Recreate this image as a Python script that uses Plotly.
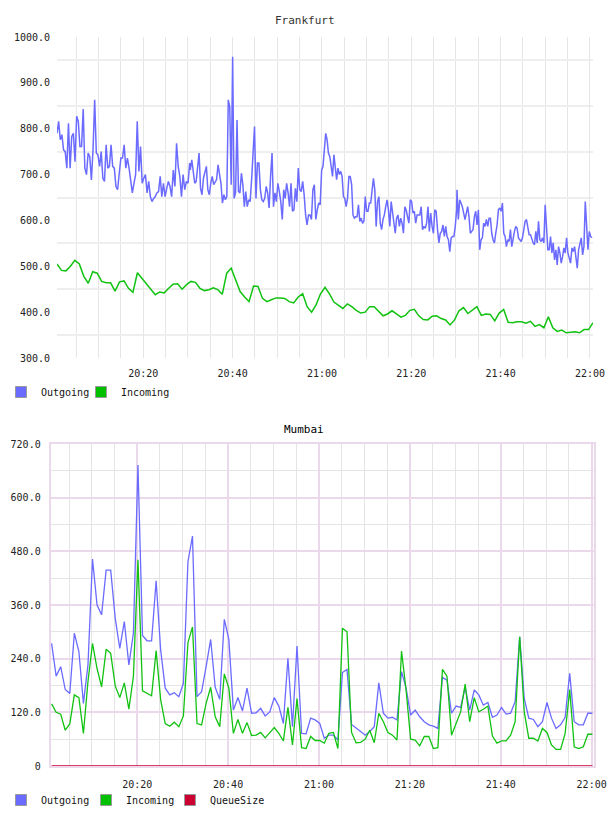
import plotly.graph_objects as go
import pandas as pd

DATE = "2024-01-01 "

# ---------------- Frankfurt ----------------
fra_out_1 = [790, 816, 776, 787, 754, 750, 714, 812, 714, 783, 790, 728, 827, 816, 761, 761, 843, 714,
             700, 747, 739, 688, 754, 863, 747, 743, 718, 750, 692, 685, 765, 714, 718, 765, 718, 714,
             674, 667, 703, 736, 736, 765, 714, 736, 714, 685, 660, 681, 700, 816, 707, 761, 681, 692,
             700, 660, 685, 652, 641, 648, 652, 660, 663, 696, 652, 681, 652, 670, 685, 674, 652, 710,
             674, 768, 718, 696, 652, 700, 667, 685, 681, 725]
fra_out_2 = [710, 732, 703, 681, 685, 714, 747, 670, 656, 692, 703, 718, 667, 656, 681, 696, 678, 685,
             689, 721, 696, 681, 638, 656, 645, 652, 863, 848, 678, 957, 648, 660, 819, 663, 660, 703,
             678, 630, 663, 630, 645, 641, 689, 754, 805, 648, 725, 725, 667, 645, 641, 648, 674, 660,
             627, 696, 747, 630, 660, 641, 681, 663, 641, 602, 667, 648, 681, 660, 630, 681, 620, 623,
             670, 641, 714, 667, 663, 685, 656, 612, 590, 612, 612, 602, 667, 678, 602, 623, 638, 634,
             710]
fra_out_3 = [718, 754, 790, 776, 747, 739, 710, 696, 743, 710, 689, 714, 700, 707, 696, 652, 648, 630,
             648, 696, 696, 678, 612, 605, 608, 608, 634, 598, 605, 594, 598, 652, 620, 620, 638, 638,
             660, 692, 667, 587, 641, 652, 594, 580, 602, 612, 630, 645, 623, 587, 641, 616, 598, 572,
             605, 612, 587, 605, 594, 572, 630, 623, 608, 594, 645, 641, 616, 620, 594, 612, 612, 612,
             630, 580, 587, 583, 594, 630, 576, 616, 587, 572, 623, 620, 580, 551, 572, 576, 590, 565,
             587, 565, 558, 532, 562, 565, 565, 587, 623]
fra_out_4 = [667, 602, 645, 638, 630, 616, 602, 616, 630, 608, 572, 576, 580, 608, 620, 590, 623, 536,
             558, 562, 594, 587, 602, 587, 605, 605, 572, 558, 551, 572, 590, 623, 627, 620, 638, 572,
             565, 543, 558, 554, 580, 543, 562, 576, 587, 583, 562, 558, 554, 562, 583, 598, 602, 587,
             569, 569, 558, 551, 547, 576, 551, 598, 558, 554, 562, 551, 634, 587, 536, 536, 565, 529,
             551, 514, 536, 503, 543, 529, 507, 521, 540, 529, 562, 529, 514, 507, 540, 532, 543, 521,
             496, 536, 551, 562, 525, 543, 641, 580, 536, 576, 565, 562]
fra_out_spans = [("20:00:41", "20:30:23"), ("20:30:32", "20:59:56"),
                 ("21:00:14", "21:30:09"), ("21:30:14", "22:00:27")]

fra_in = [505, 491, 490, 500, 513, 505, 478, 463, 488, 485, 467, 464, 464, 446, 466, 468, 452, 443,
          486, 474, 460, 449, 438, 444, 442, 452, 461, 462, 450, 460, 467, 465, 452, 447, 449, 453,
          449, 439, 485, 496, 470, 445, 433, 423, 457, 456, 430, 423, 427, 431, 431, 430, 423, 420,
          433, 440, 412, 400, 416, 440, 454, 440, 422, 414, 408, 418, 412, 404, 398, 400, 412, 412,
          403, 392, 396, 403, 396, 389, 393, 404, 406, 392, 384, 383, 391, 392, 386, 383, 372, 383,
          403, 410, 397, 404, 412, 393, 396, 395, 381, 398, 406, 378, 377, 379, 379, 376, 380, 369,
          373, 366, 390, 366, 358, 361, 355, 356, 357, 355, 362, 362, 377]
fra_in_start = "20:00:41"

fra_range = ("20:00:41", "22:00:41")
fra_yticks = [300, 400, 500, 600, 700, 800, 900, 1000]
fra_yticktext = ["300.0", "400.0", "500.0", "600.0", "700.0", "800.0", "900.0", "1000.0"]

# ---------------- Mumbai ----------------
mum_out = [274, 201, 222, 171, 162, 297, 256, 140, 226, 463, 360, 338, 438, 438, 330, 263, 323, 226,
           297, 673, 292, 280, 280, 414, 259, 174, 159, 164, 155, 185, 457, 514, 155, 166, 222, 283,
           176, 149, 328, 283, 125, 153, 123, 174, 118, 119, 129, 112, 121, 153, 134, 95, 241, 88,
           268, 73, 72, 107,
           103, 95, 62, 69, 69, 58, 209, 216, 93, 84, 77, 69, 77, 88, 186, 118, 107, 109, 103, 211,
           174, 114, 125, 110, 99, 92, 89, 84, 198, 192, 118, 134, 131, 176, 125, 170, 159, 136, 142,
           109, 114, 131, 116, 118, 144, 289, 151, 107, 104, 88, 99, 142, 107, 84, 92, 109, 207, 99,
           92, 92, 118, 118]
mum_in = [139, 120, 116, 80, 94, 159, 153, 73, 189, 274, 218, 177, 261, 252, 179, 153, 186, 127,
          200, 461, 168, 162, 157, 258, 148, 95, 89, 98, 88, 112, 276, 311, 95, 92, 140, 176, 110, 88,
          206, 174, 73, 104, 73, 97, 68, 69, 75, 63, 75, 86, 73, 56, 131, 47, 151, 41, 39, 66,
          57, 57, 51, 73, 75, 39, 308, 300, 75, 52, 53, 60, 80, 52, 118, 99, 75, 69, 58, 257, 170, 60,
          58, 45, 66, 66, 39, 41, 216, 201, 69, 95, 121, 183, 99, 153, 121, 127, 134, 67, 51, 56, 56,
          69, 99, 289, 121, 62, 62, 56, 84, 75, 47, 37, 37, 73, 171, 43, 39, 43, 71, 71]
mum_queue = [0] * len(mum_out)
mum_start = "20:01:10"

mum_range = ("20:00:58", "22:00:31")
mum_yticks = [0, 120, 240, 360, 480, 600, 720]
mum_yticktext = ["0", "120.0", "240.0", "360.0", "480.0", "600.0", "720.0"]

# ---------------- styling ----------------
W, H = 608, 816
FONT = "DejaVu Sans Mono"
C_OUT = "#6b6bff"
C_IN = "#11c211"
C_Q = "#cc0033"
GRID = "#e6e6e6"
PINK = "#ebd8eb"
MINOR2 = "#e4e4e4"


def every_minute(start, n):
    return pd.date_range(DATE + start, periods=n, freq="60s")


fig = go.Figure()

fo_x, fo_y = [], []
for seg, (s, e) in zip([fra_out_1, fra_out_2, fra_out_3, fra_out_4], fra_out_spans):
    fo_x += list(pd.date_range(DATE + s, DATE + e, periods=len(seg)))
    fo_y += seg
fig.add_trace(go.Scatter(x=fo_x, y=fo_y, mode="lines", line=dict(color=C_OUT, width=1.5),
                         showlegend=False, xaxis="x", yaxis="y"))
fig.add_trace(go.Scatter(x=every_minute(fra_in_start, len(fra_in)), y=fra_in, mode="lines",
                         line=dict(color=C_IN, width=1.5), showlegend=False, xaxis="x", yaxis="y"))

mx = every_minute(mum_start, len(mum_out))
fig.add_trace(go.Scatter(x=mx, y=mum_out, mode="lines", line=dict(color=C_OUT, width=1.3),
                         showlegend=False, xaxis="x2", yaxis="y2"))
fig.add_trace(go.Scatter(x=mx, y=mum_in, mode="lines", line=dict(color=C_IN, width=1.3),
                         showlegend=False, xaxis="x2", yaxis="y2"))
fig.add_trace(go.Scatter(x=mx, y=mum_queue, mode="lines", line=dict(color=C_Q, width=1.5),
                         showlegend=False, xaxis="x2", yaxis="y2", cliponaxis=False))


def swatch(name, color, legend, xa, ya, lw=None):
    fig.add_trace(go.Scatter(x=[None], y=[None], mode="markers", name=name,
                             marker=dict(symbol="square", size=11, color=color,
                                         line=dict(color="#999999", width=1)),
                             legend=legend, legendwidth=lw, xaxis=xa, yaxis=ya))


swatch("Outgoing", C_OUT, "legend", "x", "y", 35)
swatch("Incoming", "#00c000", "legend", "x", "y", 70)
swatch("Outgoing", C_OUT, "legend2", "x2", "y2", 40)
swatch("Incoming", "#00c000", "legend2", "x2", "y2", 39)
swatch("QueueSize", C_Q, "legend2", "x2", "y2", 80)

MIN = 60 * 1000

fig.update_layout(
    width=W, height=H, autosize=False, margin=dict(l=0, r=0, t=0, b=0, autoexpand=False),
    paper_bgcolor="white", plot_bgcolor="white",
    font=dict(family=FONT, size=10, color="#222"),
    xaxis=dict(domain=[57 / W, 593 / W], anchor="y", type="date",
               range=[DATE + fra_range[0], DATE + fra_range[1]],
               tickformat="%H:%M", tick0=DATE + "20:00", dtick=20 * MIN,
               showgrid=True, gridcolor=GRID, gridwidth=1, zeroline=False, showline=False,
               ticks="", ticklabelstandoff=8, automargin=False,
               minor=dict(tick0=DATE + "20:00", dtick=5 * MIN, showgrid=True, gridcolor=GRID,
                          gridwidth=1)),
    yaxis=dict(domain=[1 - 358 / H, 1 - 37 / H], anchor="x", range=[300, 1000],
               tickmode="array", tickvals=fra_yticks, ticktext=fra_yticktext,
               showgrid=False, zeroline=False, showline=False, ticks="", ticklabelstandoff=6,
               automargin=False,
               minor=dict(tickmode="array",
                          tickvals=[v + 50 for v in fra_yticks[:-1]],
                          showgrid=True, gridcolor="#eeeeee", gridwidth=2)),
    xaxis2=dict(domain=[50.7 / W, 594 / W], anchor="y2", type="date",
                range=[DATE + mum_range[0], DATE + mum_range[1]],
                tickformat="%H:%M", tick0=DATE + "20:00", dtick=20 * MIN,
                showgrid=True, gridcolor=PINK, gridwidth=1.5, zeroline=False,
                showline=True, mirror=True, linecolor=PINK, linewidth=2,
                ticks="", ticklabelstandoff=8, automargin=False,
                minor=dict(tick0=DATE + "20:00", dtick=5 * MIN, showgrid=True, gridcolor=MINOR2,
                           gridwidth=1)),
    yaxis2=dict(domain=[1 - 766 / H, 1 - 444 / H], anchor="x2", range=[0, 720],
                tickmode="array", tickvals=mum_yticks, ticktext=mum_yticktext,
                showgrid=True, gridcolor=PINK, gridwidth=1.5, zeroline=False,
                showline=True, mirror=True, linecolor=PINK, linewidth=2,
                ticks="", ticklabelstandoff=6, automargin=False,
                minor=dict(tickmode="array",
                           tickvals=[v + 60 for v in mum_yticks[:-1]],
                           showgrid=True, gridcolor=MINOR2, gridwidth=1)),
    legend=dict(orientation="h", x=1 / W, xanchor="left", y=1 - 392 / H, yanchor="middle",
                font=dict(family=FONT, size=10, color="#111"), bgcolor="rgba(0,0,0,0)",
                itemwidth=30, tracegroupgap=0),
    legend2=dict(orientation="h", x=1 / W, xanchor="left", y=1 - 800 / H, yanchor="middle",
                 font=dict(family=FONT, size=10, color="#111"), bgcolor="rgba(0,0,0,0)",
                 itemwidth=30, tracegroupgap=0),
    annotations=[
        dict(text="Frankfurt", x=305 / W, y=1 - 20 / H, xref="paper", yref="paper",
             xanchor="center", yanchor="middle",
             showarrow=False, font=dict(family=FONT, size=11, color="#333")),
        dict(text="Mumbai", x=304 / W, y=1 - 429 / H, xref="paper", yref="paper",
             xanchor="center", yanchor="middle",
             showarrow=False, font=dict(family=FONT, size=11, color="#000")),
    ],
)

fig.write_html("out.html", config={"responsive": False, "displayModeBar": False})
